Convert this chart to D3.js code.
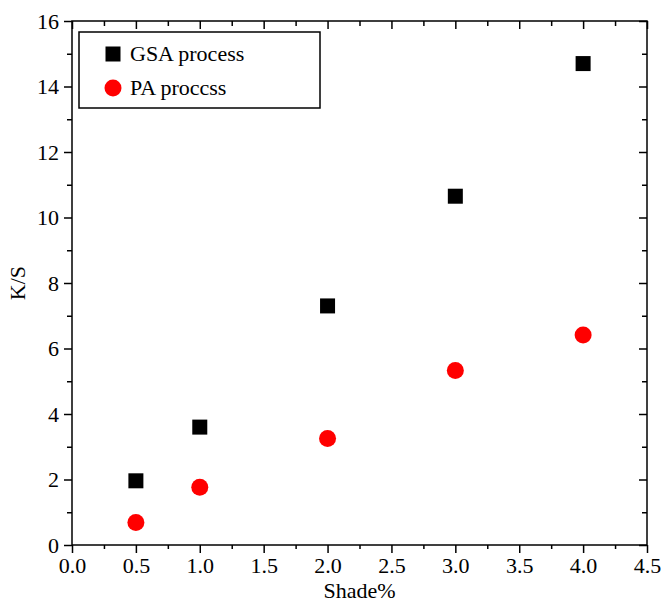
<!DOCTYPE html>
<html lang="en">
<head>
<meta charset="UTF-8" />
<title>K/S vs Shade%</title>
<script src="https://d3js.org/d3.v7.min.js"></script>
<style>
  html, body { margin: 0; padding: 0; background: #fff; }
</style>
</head>
<body>
<div id="chart"></div>
<script>
const shade = [0.5, 1.0, 2.0, 3.0, 4.0];
const gsaValues = [1.96, 3.6, 7.3, 10.65, 14.7];
const paValues = [0.69, 1.76, 3.25, 5.33, 6.41];
const seriesNames = ["GSA process", "PA proccss"];
const xTicks = [0, 0.5, 1, 1.5, 2, 2.5, 3, 3.5, 4, 4.5];
const yTicks = [0, 2, 4, 6, 8, 10, 12, 14, 16];

const FONT = "'Liberation Serif', 'Times New Roman', 'DejaVu Serif', serif";
const W = 662, H = 603;
const margin = { top: 21, right: 15, bottom: 58, left: 72 };
const w = W - margin.left - margin.right;
const h = H - margin.top - margin.bottom;

const svg = d3.select("#chart").append("svg")
  .attr("width", W).attr("height", H);
const g = svg.append("g").attr("transform", `translate(${margin.left},${margin.top})`);

const x = d3.scaleLinear().domain([0, 4.5]).range([0, w]);
const y = d3.scaleLinear().domain([0, 16]).range([h, 0]);

const minorX = d3.range(0.25, 4.5, 0.5);
const minorY = d3.range(1, 16, 2);

function styleAxis(sel) {
  sel.attr("font-family", null).attr("font-size", null);
  sel.select(".domain").remove();
  sel.selectAll(".tick line").attr("stroke", "#000").attr("stroke-width", 1.5);
  sel.selectAll(".tick text").attr("fill", "#000");
}

// bottom
g.append("g").attr("transform", `translate(0,${h})`)
  .call(d3.axisBottom(x).tickValues(minorX).tickSize(4).tickFormat(""))
  .call(styleAxis);
g.append("g").attr("transform", `translate(0,${h})`)
  .call(d3.axisBottom(x).tickValues(xTicks).tickSize(8).tickPadding(4).tickFormat(d3.format(".1f")))
  .call(styleAxis);
// top (inward)
g.append("g")
  .call(d3.axisBottom(x).tickValues(minorX).tickSize(5).tickFormat(""))
  .call(styleAxis);
g.append("g")
  .call(d3.axisBottom(x).tickValues(xTicks).tickSize(8).tickFormat(""))
  .call(styleAxis);
// left
g.append("g")
  .call(d3.axisLeft(y).tickValues(minorY).tickSize(5).tickFormat(""))
  .call(styleAxis);
g.append("g")
  .call(d3.axisLeft(y).tickValues(yTicks).tickSize(8).tickPadding(5).tickFormat(d3.format("d")))
  .call(styleAxis);
// right (inward)
g.append("g").attr("transform", `translate(${w},0)`)
  .call(d3.axisLeft(y).tickValues(minorY).tickSize(5).tickFormat(""))
  .call(styleAxis);
g.append("g").attr("transform", `translate(${w},0)`)
  .call(d3.axisLeft(y).tickValues(yTicks).tickSize(8).tickFormat(""))
  .call(styleAxis);

// frame
g.append("rect").attr("x", 0).attr("y", 0).attr("width", w).attr("height", h)
  .attr("fill", "none").attr("stroke", "#000").attr("stroke-width", 1.5);

// points
const sq = 15;
g.selectAll(".gsa").data(shade).join("rect")
  .attr("class", "gsa")
  .attr("x", (d) => x(d) - sq / 2)
  .attr("y", (d, i) => y(gsaValues[i]) - sq / 2)
  .attr("width", sq).attr("height", sq)
  .attr("fill", "#000");

g.selectAll(".pa").data(shade).join("circle")
  .attr("class", "pa")
  .attr("cx", (d) => x(d))
  .attr("cy", (d, i) => y(paValues[i]))
  .attr("r", 8.5)
  .attr("fill", "#ff0000");

// axis titles
svg.append("text")
  .attr("x", margin.left + w / 2).attr("y", 598)
  .attr("text-anchor", "middle")
  .text("Shade%");
svg.append("text")
  .attr("transform", `translate(25,${margin.top + h / 2}) rotate(-90)`)
  .attr("text-anchor", "middle")
  .text("K/S");

// legend
const lg = svg.append("g").attr("transform", "translate(79,32)");
lg.append("rect").attr("width", 241).attr("height", 76)
  .attr("fill", "#fff").attr("stroke", "#000").attr("stroke-width", 1.5);
lg.append("rect").attr("x", 34 - sq / 2).attr("y", 22 - sq / 2)
  .attr("width", sq).attr("height", sq).attr("fill", "#000");
lg.append("circle").attr("cx", 34).attr("cy", 56).attr("r", 8.5).attr("fill", "#ff0000");
lg.selectAll(".ltext").data(seriesNames).join("text")
  .attr("class", "ltext")
  .attr("x", 51)
  .attr("y", (d, i) => 22 + i * 34 + 7)
  .text((d) => d);

// same serif face and size on every label
svg.selectAll("text")
  .style("font-family", FONT)
  .style("font-size", "22px")
  .style("fill", "#000");
</script>
</body>
</html>
